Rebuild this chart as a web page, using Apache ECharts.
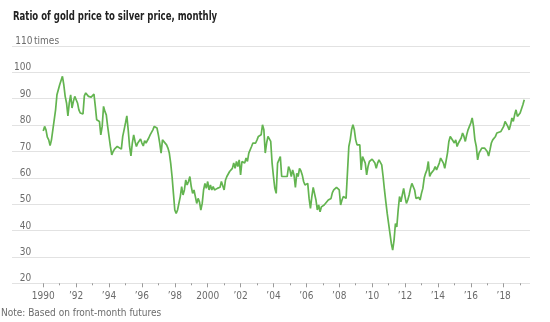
<!DOCTYPE html>
<html>
<head>
<meta charset="utf-8">
<script src="https://cdn.jsdelivr.net/npm/echarts@6/dist/echarts.min.js"></script>
<style>
  html, body { margin: 0; padding: 0; background: #fff; }
  #chart { width: 550px; height: 322px; }
</style>
</head>
<body>
<div id="chart"></div>
<script>
const titleText = 'Ratio of gold price to silver price, monthly';
const noteText = 'Note: Based on front-month futures';
const unitText = 'times';

// First month of the series
const startYear = 1990;

// Gold/silver price ratio, one value per month from January 1990 (null = no reading)
const ratio = [
  /* 1990 */ 77.8, 79.5, 78.2, 75.4, 74.4, 72.2, 74.4, 78.2, null, 85.8, 91.5, 93.4,
  /* 1991 */ 95.3, null, 98.5, 95.3, 90.9, 88.4, 83.5, 88.4, 91.5, 86.5, 89, 90.9,
  /* 1992 */ 91.5, 88.4, 85.8, 84.6, 84.2, 84.2, 91.1, 92.2, 92.8, 90.9, 90.3, 90.6,
  /* 1993 */ 90.9, 91.8, 87.1, 82, 82.7, 81.4, 76.3, 79.5, 87.1, 85.2, 83.9, 79.5,
  /* 1994 */ 75.7, 71.9, 68.7, 70, 70.9, null, 71.9, 71.3, null, 70.9, 75.7, 78.2,
  /* 1995 */ 80.8, 83.5, 78.2, 71.9, 68.3, 73.2, 76.3, 73.8, 71.9, 73.2, null, 74.7,
  /* 1996 */ 73.2, 72.1, 74.1, 73.2, null, 75.1, 76.3, 75.9, 78.2, 79.5, null, 78.9,
  /* 1997 */ 76.3, 73.2, 69.4, 74.4, 73.8, null, 72.5, 71.3, 69.4, 65.6, 60.5, 54.1,
  /* 1998 */ 47.8, 46.5, 47.8, null, 52.9, 56.7, 53.5, 55.4, 59.2, 57.3, 58.6, 60.5,
  /* 1999 */ 56.7, 54.1, 55.4, 52.9, 50.3, 52.2, 50.9, 47.8, 50.3, 55.4, 57.9, 56,
  /* 2000 */ 58.6, 55.4, 57.3, 55.4, 56.7, 55.4, null, 56, 55.6, 56.4, 58.6, null,
  /* 2001 */ 55.4, 59.2, 60.5, 61.1, 62.4, null, 63.6, 65.6, 63.6, 66.2, 64.3, 66.8,
  /* 2002 */ 61.1, 66.2, 66.8, 65.6, 67.5, 66.2, 69.4, 70, 71.9, 73.2, 72.5, 73.2,
  /* 2003 */ 74.4, 75.7, 75.1, 76.3, 80.1, 78.2, 69.4, 73.2, 75.7, 76.3, 73.8, 65.6,
  /* 2004 */ 60.5, 56, 54.1, 65.6, 66.8, 68.1, 60.5, 60.5, 60.5, 59.9, 60.5, 64.3,
  /* 2005 */ 63, 60.5, 63, 61.1, 56.4, 61.7, 60.5, 63.6, 62.7, 61.1, 58.6, 57.3,
  /* 2006 */ null, 57.9, 52.2, 48.4, 52.9, 56.4, 56, 51.6, 47.8, 49.7, 47.1, 49,
  /* 2007 */ 48.4, 49.7, 49, null, 51.6, 51, 52.2, 54.4, 55.4, 54.8, 56.4, null,
  /* 2008 */ 55.4, 49.7, 51.6, 52.9, null, 52.2, 52.6, 71.9, 74.4, 78.2, 80.1, 78.2,
  /* 2009 */ 74.4, 72.5, 71.9, 72.5, 63, 68.1, 68.7, 65.6, 61.1, 64.3, 66.2, 65.6,
  /* 2010 */ 67.1, 67.8, 65.6, 63.6, 65.6, 66.8, 66.2, 64.9, 60.5, 55.4, 50.9, 46.5,
  /* 2011 */ 42.7, 38.9, 35.1, 32.6, 36.4, 42.7, 41.4, 47.8, 52.9, 50.9, 53.5, 56,
  /* 2012 */ 52.9, 50.3, 51.6, 53.5, 56, 57.9, 57.9, 55.4, 52.2, 51.6, 52.6, 51.6,
  /* 2013 */ 54.1, 56, 59.9, 61.7, 63, 66.2, 60.5, 61.7, 62.4, 63, 64.3, 63,
  /* 2014 */ 63.6, 65.6, 67.5, 67.5, 65.6, 63.6, 64, 69.5, 73.8, 75.7, 75.1, null,
  /* 2015 */ 73.2, 74.4, 71.9, 73.2, 72.5, 75.1, 77, 75.7, 73.8, 76.3, 78.2, 79.5,
  /* 2016 */ 80.8, 82.7, 79.5, 74.4, 71.9, 66.8, 69.4, 70, 71.3, 71.9, 71.3, 71.9,
  /* 2017 */ 70, 68.3, 70.6, 73.2, 74.4, 75.1, 75.7, 77, 76.7, null, 77.6, 78.2,
  /* 2018 */ 79.5, 81.4, null, 79.5, 78.2, 80.1, 82.7, 81.4, 83.9, 85.8, 83.3, 82.7,
  /* 2019 */ 84.6, 85.2, 87.7, 89.6
];

// Axis ticks
const yMin = 20, yMax = 110, yStep = 10;
const labelYears = [1990, 1992, 1994, 1996, 1998, 2000, 2002, 2004, 2006, 2008, 2010, 2012, 2014, 2016, 2018];
const minorYears = [1991, 1993, 1995, 1997, 1999, 2001, 2003, 2005, 2007, 2009, 2011, 2013, 2015, 2017, 2019];
const xRange = [1988.1, 2019.6];

const labelFont = '"Liberation Sans Narrow", "DejaVu Sans Condensed", "Liberation Sans", sans-serif';
const labelColor = '#6b6b6b';
const tickColor = '#9a9a9a';

// month index -> fractional year
const seriesData = ratio.map((v, i) => [startYear + i / 12, v === null ? '-' : v]);

function yearLabel(v) {
  const y = Math.round(v);
  if (y % 1000 === 0 || y === 1990) return String(y);
  return '\u2019' + String(y).slice(2);
}

const chart = echarts.init(document.getElementById('chart'), null, { renderer: 'canvas' });
chart.setOption({
  animation: false,
  backgroundColor: '#ffffff',
  title: {
    text: noteText,
    left: 1, top: 308, padding: 0,
    textStyle: { fontFamily: labelFont, fontWeight: 'normal', fontSize: 10, color: labelColor }
  },
  // Headline set in a tightly condensed bold face
  graphic: [{
    type: 'text',
    x: 13, y: 10, scaleX: 0.76,
    style: {
      text: titleText,
      fontFamily: labelFont, fontWeight: 'bold', fontSize: 12.5, fill: '#222',
      verticalAlign: 'top', align: 'left'
    }
  }],
  grid: { left: 12, right: 20, top: 46, bottom: 38.7, containLabel: false },
  xAxis: [
    {
      type: 'value', min: xRange[0], max: xRange[1], position: 'bottom',
      axisLine: { show: false, onZero: false },
      splitLine: { show: false },
      axisTick: { show: true, customValues: labelYears, length: 4, lineStyle: { color: tickColor, width: 1 } },
      axisLabel: {
        customValues: labelYears, formatter: yearLabel, margin: 8,
        fontFamily: labelFont, fontSize: 10, color: labelColor
      }
    },
    {
      type: 'value', min: xRange[0], max: xRange[1], position: 'bottom',
      axisLine: { show: false, onZero: false },
      splitLine: { show: false },
      axisTick: { show: true, customValues: minorYears, length: 2, lineStyle: { color: tickColor, width: 1 } },
      axisLabel: { show: false }
    }
  ],
  yAxis: {
    type: 'value', min: yMin, max: yMax, interval: yStep,
    axisLine: { show: false }, axisTick: { show: false },
    splitLine: { show: true, lineStyle: { color: '#e2e2e2', width: 1 } },
    axisLabel: {
      inside: true, margin: 4.7, verticalAlign: 'bottom',
      fontFamily: labelFont, fontSize: 10, color: labelColor,
      formatter: v => v === yMax ? '{n|' + v + '}{u| ' + unitText + '}' : '{n|' + v + '}',
      rich: {
        n: { width: 14.5, align: 'right', lineHeight: 9, fontFamily: labelFont, fontSize: 10, color: labelColor },
        u: { lineHeight: 9, fontFamily: labelFont, fontSize: 10, color: labelColor }
      }
    }
  },
  series: [{
    type: 'line',
    xAxisIndex: 0,
    data: seriesData,
    showSymbol: false,
    connectNulls: true,
    lineStyle: { color: '#63b450', width: 1.7 },
    itemStyle: { color: '#63b450' }
  }]
});
</script>
</body>
</html>
